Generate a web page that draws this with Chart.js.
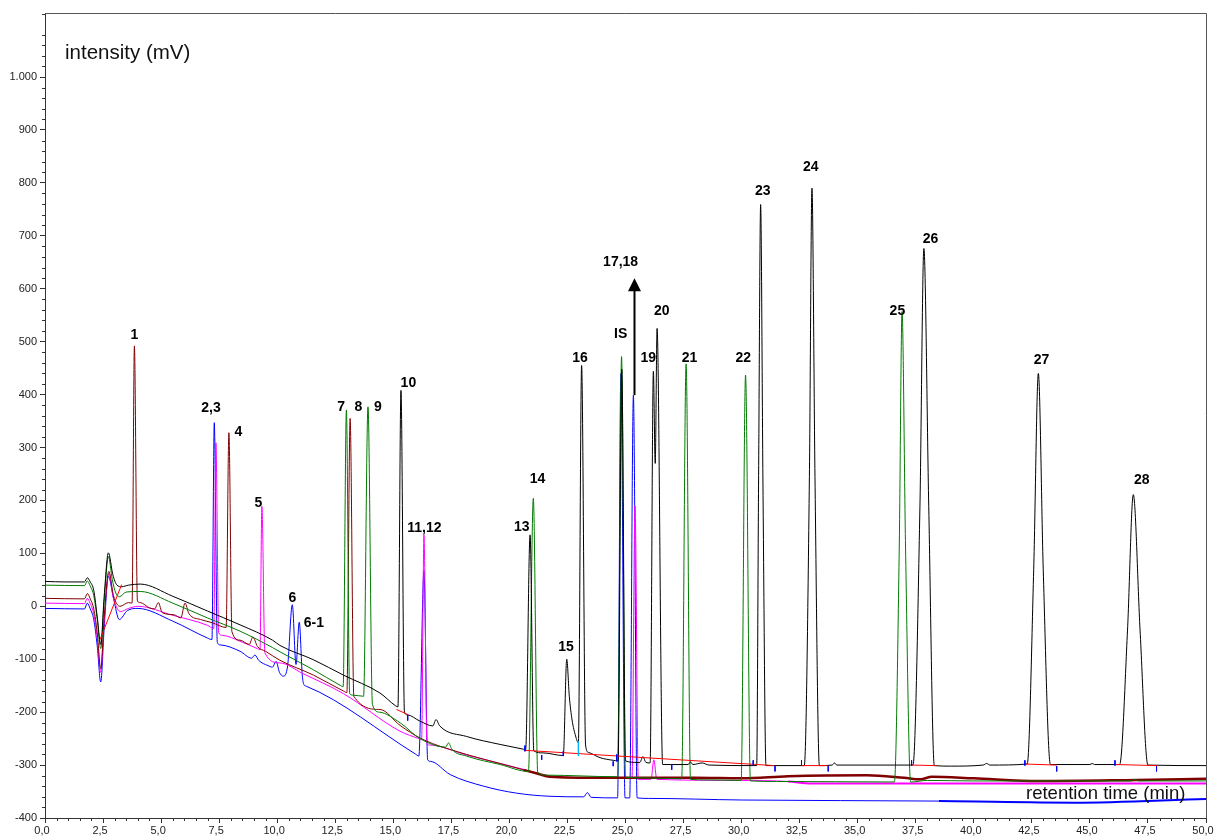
<!DOCTYPE html>
<html>
<head>
<meta charset="utf-8">
<script src="https://cdn.jsdelivr.net/npm/chart.js@4.4.1/dist/chart.umd.min.js"></script>
<style>
  html, body { margin: 0; padding: 0; background: #ffffff; }
  canvas { display: block; }
</style>
</head>
<body>
<canvas id="chromatogram" width="1214" height="838"></canvas>
<script>
// Retention time (min) / detector signal (mV) pairs, one list per run.
const blackTrace = [
  [0,47],[0.9,46],[1.7,46],[1.82,54],[1.95,46],[2.1,30],[2.25,-20],[2.4,-72],[2.55,20],[2.73,101],[2.92,60],[3.1,40],[3.3,37],[3.6,40],[4.1,42],
  [5.5,19],[7.0,-9],[8.4,-35],[9.8,-64],[10.12,-74],[11.56,-101],[12.85,-130],[14.43,-164],[15.1,-188],
  [15.2,-190],[15.33,408],[15.48,-200],[15.6,-205],
  [16.15,-217],[16.7,-226],[16.84,-214],[17.0,-226],[18.16,-246],[19.6,-261],[20.6,-270],
  [20.7,-271],[20.89,135],[21.05,-273],[21.45,-277],[22.32,-282],
  [22.47,-100],[22.58,-170],[22.7,-215],[22.85,-245],[22.97,-258],
  [23.11,455],[23.28,-262],[23.4,-276],[23.9,-286],[24.47,-291],[24.68,-292],
  [24.84,448],[25.0,-292],[25.5,-295],[25.62,-295],[25.75,-284],[25.88,-295],[26.06,-296],
  [26.2,444],[26.28,270],[26.36,525],[26.6,-299],[27.0,-299],[27.7,-299],[27.8,-294],[27.9,-299],[28.3,-296],[28.6,-300],[30.5,-301],[30.65,-301],
  [30.73,229],[30.82,759],[30.92,229],[31.05,-301],[32.7,-301],
  [32.92,245],[33.03,790],[33.16,245],[33.35,-301],[33.9,-300],[34.0,-296],[34.1,-300],[37.38,-300],
  [37.68,188],[37.85,676],[38.06,188],[38.3,-301],[39.0,-302],[40.4,-300],[40.55,-297],[40.7,-300],[42.3,-298],
  [42.58,70],[42.78,440],[42.99,70],[43.3,-299],[45.0,-299],[45.1,-297],[45.2,-299],[46.28,-299],
  [46.62,-45],[46.87,211],[47.16,-45],[47.5,-300],[50,-301]
];

const greenTrace = [
  [0,40],[1.7,39],[1.82,48],[1.95,38],[2.1,20],[2.25,-25],[2.4,-80],[2.55,10],[2.73,94],[2.9,50],[3.05,25],[3.2,18],[3.5,27],[4.1,28],
  [5.5,6],[7.0,-22],[8.4,-47],[9.8,-78],[10.12,-86],[11.56,-120],[12.7,-149],[12.84,-152],
  [12.98,371],[13.12,-165],[13.3,-168],[13.72,-170],
  [13.91,377],[14.1,-185],[14.4,-200],[15.29,-220],[16.15,-250],[17.25,-266],[17.38,-258],[17.52,-270],[18.16,-283],[19.6,-299],[20.82,-312],
  [21.03,204],[21.22,-314],[21.6,-319],[24.66,-322],
  [24.83,472],[25.0,-323],[25.6,-324],[27.42,-326],
  [27.61,458],[27.8,-327],[28.5,-328],[29.98,-329],
  [30.17,437],[30.38,-330],[31.5,-331],[36.58,-332],
  [36.79,112],[36.91,557],[37.06,112],[37.28,-332],[38,-329],[40,-330],[46.8,-330],[46.95,-327],[47.1,-330],[50,-330]
];

const maroonTrace = [
  [0,15],[1.7,14],[1.82,24],[1.95,14],[2.1,-5],[2.25,-50],[2.4,-118],[2.55,-20],[2.75,66],[2.95,20],[3.23,0],[3.6,7],[3.75,6],
  [3.85,492],[3.98,10],[4.1,7],[4.5,-3],[4.72,-5],[4.88,7],[5.05,-12],[5.55,-16],[5.85,-22],[6.03,6],[6.2,-14],[6.7,-25],[7.2,-31],[7.8,-40],
  [7.92,328],[8.05,-48],[8.4,-64],[8.8,-72],[8.95,-58],[9.15,-76],[9.5,-85],[10.12,-102],[11.56,-130],[12.85,-160],[13.0,-163],
  [13.14,355],[13.3,-170],[14.43,-195],[15.29,-225],[16.2,-250],[18.16,-280],[19.6,-297],[20.6,-309],[21.2,-316],[21.75,-322],
  [24,-324],[28,-324],[30,-325],[32,-321],[35.4,-319],[37.0,-324],[37.7,-327],[38.2,-322],[40,-325],[42.85,-330],[47,-328],[50,-326]
];

const magentaTrace = [
  [0,6],[1.7,5],[1.82,15],[1.95,5],[2.1,-15],[2.25,-60],[2.4,-125],[2.55,-25],[2.75,62],[2.95,15],[3.25,-10],[3.6,-4],[4.0,0],
  [5.5,-17],[7.0,-36],[7.27,-42],
  [7.36,309],[7.48,-50],[7.65,-55],[8.4,-66],[9.15,-80],[9.26,-82],
  [9.34,189],[9.47,-88],[10.12,-107],[11.1,-127],[12.85,-165],[15.29,-236],[16.1,-250],[16.22,-252],
  [16.32,135],[16.45,-260],[16.55,-262],[18.16,-281],[19.6,-297],[20.6,-308],[21.75,-321],[25.28,-325],
  [25.41,190],[25.55,-327],[26.1,-327],[26.22,-290],[26.35,-327],[30,-329],[32,-331],[33,-335],[50,-335]
];

const blueTrace = [
  [0,-4],[1.7,-5],[1.82,6],[1.95,-5],[2.1,-25],[2.25,-75],[2.4,-143],[2.55,-40],[2.73,57],[2.95,15],[3.2,-25],[3.55,-8],[4.0,-4],
  [5.5,-28],[7.0,-60],[7.19,-63],
  [7.29,347],[7.42,-68],[7.55,-73],[8.4,-85],[8.9,-98],[9.04,-92],[9.2,-102],[9.6,-112],[9.8,-115],[9.95,-104],[10.1,-125],[10.26,-132],[10.45,-112],
  [10.65,3],[10.81,-110],[10.95,-30],[11.08,-130],[11.15,-148],[11.25,-151],[15.95,-279],[16.1,-283],
  [16.32,67],[16.48,-290],[16.6,-293],[17.45,-318],[18.9,-340],[20.3,-353],[21.75,-359],[23.2,-360],[23.36,-352],[23.52,-361],[24.66,-362],
  [24.8,440],[24.98,-362],[25.18,-362],[25.34,399],[25.5,-362],[26,-363],[30,-366],[38.5,-368],[44.3,-371],[50,-364]
];

// Integration baselines (red), gaps separate the segments.
const integrationBaselines = [
  [2.37,-63],[3.3,41],[3.31,null],
  [15.14,-195],[15.65,-205],[15.66,null],
  [20.62,-272],[31.4,-301],[31.41,null],
  [32.6,-301],[33.7,-301],[33.71,null],
  [37.3,-300],[38.4,-301],[38.41,null],
  [42.2,-298],[43.57,-300],[43.58,null],
  [46.1,-299],[47.9,-301]
];

// Peak start / end markers: [time, from, to].
const peakMarkers = [
  [15.62,-206,-216],[20.67,-263,-274],[21.39,-281,-290],[22.32,-274,-283],
  [24.47,-293,-302],[24.62,-280,-293],[26.99,-299,-309],
  [30.5,-291,-301],[31.44,-302,-312],[32.58,-291,-301],[33.73,-302,-312],
  [37.32,-291,-301],[42.2,-291,-301],[43.57,-302,-312],[46.08,-291,-301],[47.87,-302,-312]
];
const peakMarkersCyan = [[22.97,-255,-283]];

// Peak names.
const peakNames = ['1','2,3','4','5','6','6-1','7','8','9','10','11,12','13','14','15','16',
  '17,18','IS','19','20','21','22','23','24','25','26','27','28'];

// Axis tick values.
const timeTicks = [0,2.5,5,7.5,10,12.5,15,17.5,20,22.5,25,27.5,30,32.5,35,37.5,40,42.5,45,47.5,50];
const signalTicks = [-400,-300,-200,-100,0,100,200,300,400,500,600,700,800,900,1000];

// Where each peak name sits, in (min, mV).
const nameAnchors = [
  [3.85,513],[7.15,374],[8.33,329],[9.19,194],[10.65,15],[11.58,-32],[12.75,376],[13.5,376],[14.34,376],
  [15.65,421],[16.34,148],[20.53,150],[21.21,240],[22.44,-77],[23.04,469],
  [24.79,651],[24.79,515],[25.98,469],[26.56,558],[27.76,469],[30.07,468],[30.91,785],[32.98,829],
  [36.71,557],[38.14,693],[42.92,466],[47.23,239]
];
// Arrow over the 17,18 peak: time, start (mV), tip (mV).
const overflowArrow = { time: 25.35, from: 399, tip: 620 };

function markerSegments(list) {
  const out = [];
  list.forEach(([t, a, b]) => { out.push([t, a], [t, b], [t + 0.001, null]); });
  return out;
}

const FONT = '"Liberation Sans", Arial, Helvetica, sans-serif';

const decor = {
  id: 'decor',
  afterDatasetsDraw(chart) {
    const { ctx, scales: { x, y } } = chart;
    ctx.save();
    // overflow arrow
    const ax = Math.round(x.getPixelForValue(overflowArrow.time)) + 0.5;
    const y0 = y.getPixelForValue(overflowArrow.from);
    const yTip = y.getPixelForValue(overflowArrow.tip);
    const headLen = 13;
    ctx.strokeStyle = '#000';
    ctx.lineWidth = 2;
    ctx.beginPath();
    ctx.moveTo(ax, y0);
    ctx.lineTo(ax, yTip + headLen - 1);
    ctx.stroke();
    ctx.fillStyle = '#000';
    ctx.beginPath();
    ctx.moveTo(ax, yTip);
    ctx.lineTo(ax - 6.5, yTip + headLen);
    ctx.lineTo(ax + 6.5, yTip + headLen);
    ctx.closePath();
    ctx.fill();
    // peak names
    ctx.font = 'bold 14px ' + FONT;
    ctx.textAlign = 'center';
    ctx.textBaseline = 'middle';
    ctx.fillStyle = '#000';
    peakNames.forEach((name, i) => {
      const [t, v] = nameAnchors[i];
      ctx.fillText(name, x.getPixelForValue(t), y.getPixelForValue(v));
    });
    ctx.restore();
  },
  afterDraw(chart) {
    const { ctx, chartArea: a, scales: { x, y } } = chart;
    ctx.save();
    // frame on top and right
    ctx.strokeStyle = '#555';
    ctx.lineWidth = 1;
    ctx.beginPath();
    ctx.moveTo(a.left, a.top + 0.5);
    ctx.lineTo(a.right + 0.5, a.top + 0.5);
    ctx.lineTo(a.right + 0.5, a.bottom);
    ctx.stroke();
    // minor ticks
    ctx.strokeStyle = '#333';
    ctx.beginPath();
    for (let v = -400; v <= 1120; v += 20) {
      if (v % 100 === 0) continue;
      const py = Math.round(y.getPixelForValue(v)) + 0.5;
      ctx.moveTo(a.left - 3, py);
      ctx.lineTo(a.left, py);
    }
    for (let k = 0; k <= 100; k++) {
      if (k % 5 === 0) continue;
      const px = Math.round(x.getPixelForValue(k * 0.5)) + 0.5;
      ctx.moveTo(px, a.bottom);
      ctx.lineTo(px, a.bottom + 3);
    }
    ctx.stroke();
    // axis captions
    ctx.fillStyle = '#111';
    ctx.textAlign = 'left';
    ctx.textBaseline = 'alphabetic';
    ctx.font = '20.5px ' + FONT;
    ctx.fillText('intensity (mV)', a.left + 20, a.top + 46);
    ctx.font = '18.5px ' + FONT;
    ctx.fillText('retention time (min)', a.right - 180, a.bottom - 19);
    ctx.restore();
  }
};

const line = (data, color, order, extra) => Object.assign({
  data, borderColor: color, backgroundColor: color, borderWidth: 1,
  pointRadius: 0, fill: false, cubicInterpolationMode: 'monotone', order
}, extra || {});

new Chart(document.getElementById('chromatogram'), {
  type: 'line',
  data: {
    datasets: [
      line(markerSegments(peakMarkers), '#0000ff', 0, { cubicInterpolationMode: 'default', tension: 0 }),
      line(markerSegments(peakMarkersCyan), '#00b8ff', 0, { cubicInterpolationMode: 'default', tension: 0 }),
      line(integrationBaselines, '#ff0000', 1, { cubicInterpolationMode: 'default', tension: 0 }),
      line(blackTrace, '#000000', 2),
      line(greenTrace, '#007a00', 3),
      line(maroonTrace, '#800000', 4, { segment: { borderWidth: c => c.p0.parsed.x >= 20.3 ? 2.5 : 1 } }),
      line(magentaTrace, '#ff00ff', 5, { segment: { borderWidth: c => c.p0.parsed.x >= 32 ? 2 : 1 } }),
      line(blueTrace, '#0000ff', 6, { segment: { borderWidth: c => c.p0.parsed.x >= 38.5 ? 2 : 1 } })
    ]
  },
  options: {
    responsive: false,
    devicePixelRatio: 1,
    animation: false,
    spanGaps: false,
    layout: { padding: { top: 13, right: 8, left: 0, bottom: 0 } },
    plugins: { legend: { display: false }, tooltip: { enabled: false } },
    scales: {
      x: {
        type: 'linear', min: 0, max: 50,
        afterBuildTicks: s => { s.ticks = timeTicks.map(v => ({ value: v })); },
        afterFit: s => { s.height = 20; s.paddingLeft = 0; s.paddingRight = 0; },
        grid: { drawOnChartArea: false, drawTicks: true, tickLength: 5, tickColor: '#333' },
        border: { display: true, color: '#333', width: 1 },
        ticks: {
          autoSkip: false, maxRotation: 0, padding: 1, labelOffset: -3, color: '#222',
          font: { family: FONT, size: 11 },
          callback: v => v.toFixed(1).replace('.', ',')
        }
      },
      y: {
        type: 'linear', min: -400, max: 1121,
        afterBuildTicks: s => { s.ticks = signalTicks.map(v => ({ value: v })); },
        afterFit: s => { s.width = 45; s.paddingTop = 0; s.paddingBottom = 0; },
        grid: { drawOnChartArea: false, drawTicks: true, tickLength: 5, tickColor: '#333' },
        border: { display: true, color: '#333', width: 1 },
        ticks: {
          autoSkip: false, padding: 3, color: '#222',
          font: { family: FONT, size: 11 },
          callback: v => v === 1000 ? '1.000' : String(v)
        }
      }
    }
  },
  plugins: [decor]
});
</script>
</body>
</html>
